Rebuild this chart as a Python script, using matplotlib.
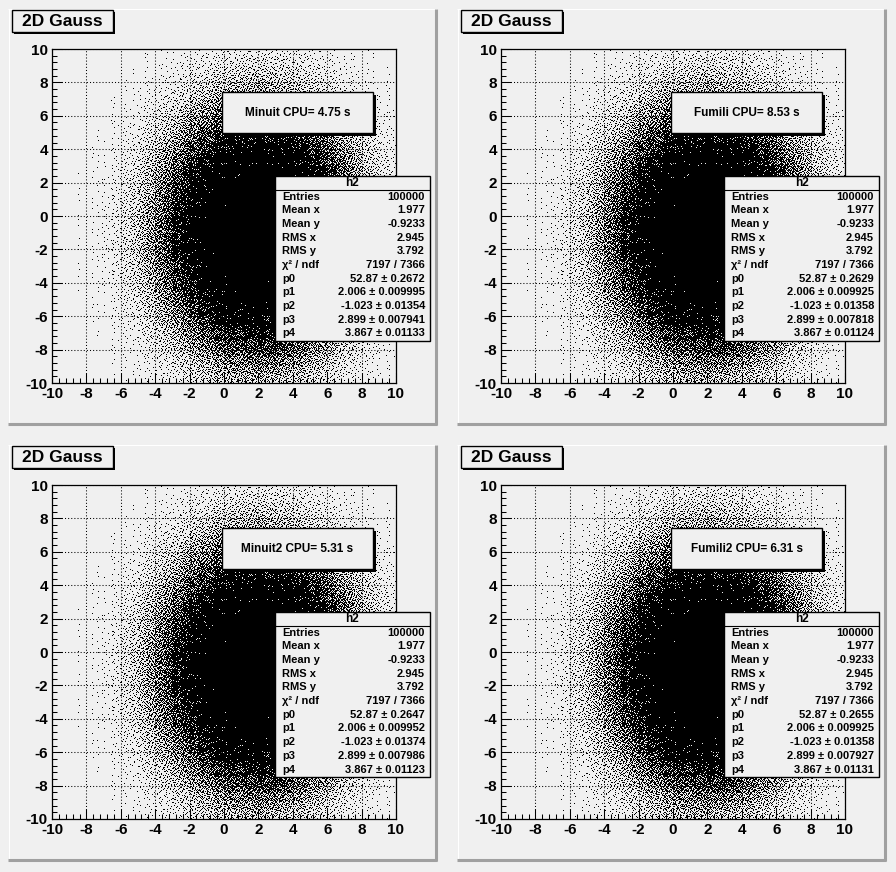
import numpy as np
import matplotlib.pyplot as plt
from matplotlib.patches import Rectangle
from matplotlib.lines import Line2D

plt.rcParams['font.family'] = ['Liberation Sans', 'DejaVu Sans']
plt.rcParams['font.weight'] = 'bold'
plt.rcParams['axes.unicode_minus'] = False

W, H = 896, 872
BG = '#f0f0f0'

# h2 contents, projected on 0.5-wide bins from -10 to 10
entries = 100000
edges = [-10 + 0.5 * i for i in range(41)]
x_counts = [2, 4, 7, 14, 25, 44, 73, 121, 196, 303,
            462, 676, 965, 1344, 1797, 2361, 2976, 3690, 4370, 5080,
            5750, 6240, 6670, 6830, 6830, 6670, 6240, 5750, 5080, 4370,
            3690, 2980, 2360, 1790, 1350, 960, 680, 460, 304, 196]
y_counts = [404, 533, 694, 892, 1125, 1409, 1708, 2053, 2422, 2820,
            3240, 3620, 3990, 4350, 4640, 4920, 5050, 5130, 5130, 5050,
            4920, 4640, 4350, 3990, 3620, 3240, 2820, 2420, 2060, 1700,
            1410, 1130, 890, 690, 536, 404, 295, 217, 155, 109]

fitters = ['Minuit', 'Fumili', 'Minuit2', 'Fumili2']
cpu_times = ['4.75', '8.53', '5.31', '6.31']

stat_labels = ['Entries', 'Mean x', 'Mean y', 'RMS x', 'RMS y', 'χ² / ndf',
               'p0', 'p1', 'p2', 'p3', 'p4']
stat_common = ['100000', '1.977', '-0.9233', '2.945', '3.792', '7197 / 7366']
par_values = ['52.87', '2.006', '-1.023', '2.899', '3.867']
par_errors = [
    ['0.2672', '0.009995', '0.01354', '0.007941', '0.01133'],
    ['0.2629', '0.009925', '0.01358', '0.007818', '0.01124'],
    ['0.2647', '0.009952', '0.01374', '0.007986', '0.01123'],
    ['0.2655', '0.009925', '0.01358', '0.007927', '0.01131'],
]


def fx(px):
    return px / W


def fy(py):
    return 1 - py / H


def box(fig, x0, y0, x1, y1, shadow=0, fc=BG, lw=1.0, z=5):
    if shadow:
        fig.add_artist(Rectangle((fx(x0 + shadow), fy(y1 + shadow)), (x1 - x0) / W, (y1 - y0) / H,
                                 transform=fig.transFigure, facecolor='black', edgecolor='none', zorder=z))
    fig.add_artist(Rectangle((fx(x0), fy(y1)), (x1 - x0) / W, (y1 - y0) / H,
                             transform=fig.transFigure, facecolor=fc, edgecolor='black',
                             linewidth=lw, zorder=z + 0.1))


def hline(fig, x0, x1, y, color, lw, z):
    fig.add_artist(Line2D([fx(x0), fx(x1)], [fy(y), fy(y)], transform=fig.transFigure,
                          color=color, linewidth=lw, zorder=z, solid_capstyle='butt'))


def vline(fig, x, y0, y1, color, lw, z):
    fig.add_artist(Line2D([fx(x), fx(x)], [fy(y0), fy(y1)], transform=fig.transFigure,
                          color=color, linewidth=lw, zorder=z, solid_capstyle='butt'))


def radical_inverse(idx, base):
    idx = idx.copy()
    r = np.zeros(len(idx))
    f = 1.0
    while np.any(idx > 0):
        f /= base
        r += f * (idx % base)
        idx //= base
    return r


# scatter dots: one dot per entry, spread over its bin with a halton sequence
frame_w, frame_h = 344, 334
grid = np.outer(np.array(y_counts), np.array(x_counts)) / entries
idx_all, x0_all, y0_all = [], [], []
for i in range(len(y_counts)):
    for j in range(len(x_counts)):
        m = int(round(grid[i, j]))
        if m == 0:
            continue
        c = i * len(x_counts) + j
        idx_all.append(np.arange(m) + c * 1013 + 17)
        x0_all.append(np.full(m, edges[j]))
        y0_all.append(np.full(m, edges[i]))
idx_all = np.concatenate(idx_all)
xs = np.concatenate(x0_all) + 0.5 * radical_inverse(idx_all, 2)
ys = np.concatenate(y0_all) + 0.5 * radical_inverse(idx_all, 3)

fig = plt.figure(figsize=(W / 100, H / 100), dpi=100)
fig.patch.set_facecolor(BG)

for n in range(4):
    col, row = n % 2, n // 2
    px0 = 8 + col * 449
    py0 = 9 + row * 436

    # pad with bevel
    fig.add_artist(Rectangle((fx(px0), fy(py0 + 416)), 429 / W, 416 / H, transform=fig.transFigure,
                             facecolor=BG, edgecolor='none', zorder=-3))
    hline(fig, px0, px0 + 429, py0 + 0.5, 'white', 0.8, -2)
    vline(fig, px0 + 0.5, py0, py0 + 416, 'white', 0.8, -2)
    hline(fig, px0, px0 + 429, py0 + 415, '#a0a0a0', 2.2, -2)
    vline(fig, px0 + 428, py0, py0 + 416, '#a0a0a0', 2.2, -2)

    ax = fig.add_axes([fx(px0 + 44), fy(py0 + 374), frame_w / W, frame_h / H])
    ax.set_facecolor(BG)
    ax.set_axisbelow(True)
    ax.plot(xs, ys, ',', color='black')
    ax.set_xlim(-10, 10)
    ax.set_ylim(-10, 10)
    ax.set_xticks(range(-10, 11, 2))
    ax.set_yticks(range(-10, 11, 2))
    ax.set_xticks(np.arange(-10, 10.01, 0.4), minor=True)
    ax.set_yticks(np.arange(-10, 10.01, 0.4), minor=True)
    ax.grid(True, which='major', color='black', linestyle=(0, (1, 2)), linewidth=0.75)
    ax.tick_params(which='major', direction='in', length=7.2, width=0.75, labelsize=11, pad=3)
    ax.tick_params(which='minor', direction='in', length=3.6, width=0.75)
    for lab in ax.get_xticklabels() + ax.get_yticklabels():
        lab.set_fontweight('bold')
    for s in ax.spines.values():
        s.set_linewidth(0.9)

    # title box
    box(fig, px0 + 4, py0 + 1, px0 + 105, py0 + 23, shadow=2)
    fig.text(fx(px0 + 54.5), fy(py0 + 12), '2D Gauss', ha='center', va='center',
             fontsize=12.5, fontweight='bold', zorder=7)

    # cpu text box
    box(fig, px0 + 214, py0 + 83, px0 + 365, py0 + 124, shadow=3)
    fig.text(fx(px0 + 289.5), fy(py0 + 104), fitters[n] + ' CPU= ' + cpu_times[n] + ' s',
             ha='center', va='center', fontsize=8.5, fontweight='bold', zorder=7)

    # stats box
    sx0, sy0, sx1, sy1 = px0 + 267, py0 + 167, px0 + 422, py0 + 332
    box(fig, sx0, sy0, sx1, sy1, shadow=1)
    hline(fig, sx0, sx1, py0 + 181, 'black', 0.8, 6)
    fig.text(fx((sx0 + sx1) / 2), fy(py0 + 174), 'h2', ha='center', va='center',
             fontsize=8.5, fontweight='bold', zorder=7)
    values = stat_common + [par_values[k] + ' ± ' + par_errors[n][k] for k in range(5)]
    for r, (lab, val) in enumerate(zip(stat_labels, values)):
        yy = py0 + 187.5 + r * 13.7
        fig.text(fx(sx0 + 7), fy(yy), lab, ha='left', va='center', fontsize=8,
                 fontweight='bold', zorder=7)
        fig.text(fx(sx1 - 5), fy(yy), val, ha='right', va='center', fontsize=8,
                 fontweight='bold', zorder=7)

fig.savefig('out.png', dpi=100, facecolor=BG)
